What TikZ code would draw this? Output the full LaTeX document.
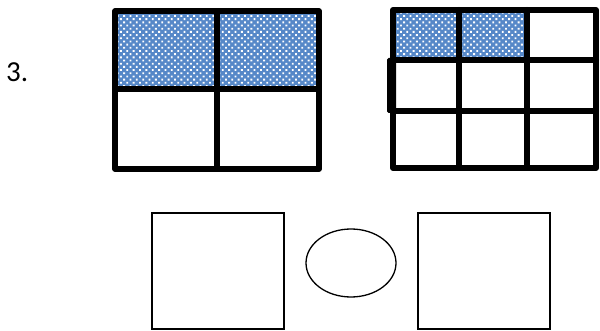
\documentclass[tikz,border=0pt]{standalone}
\usepackage{fontspec}
\setmainfont{Carlito}
\usetikzlibrary{patterns.meta,shapes.geometric}
\definecolor{cellblue}{RGB}{86,136,200}
\tikzset{
  thickgrid/.style={line width=5.5pt, line join=round, line cap=round},
  thickgridb/.style={line width=6pt, line join=round, line cap=round},
  bluecell/.style={fill=cellblue, postaction={pattern={Dots[distance=4.5pt, radius=1.3pt, angle=45]}, pattern color=white}},
  thinshape/.style={draw, line width=1.3pt, minimum width=132pt, minimum height=116pt, inner sep=0pt},
  oval/.style={draw, ellipse, line width=1.3pt, minimum width=90pt, minimum height=68pt, inner sep=0pt}
}
\begin{document}
\begin{tikzpicture}[x=1pt,y=-1pt]
\useasboundingbox (0,0) rectangle (600,331);
% label
\node[anchor=base west, inner sep=0pt, font=\fontsize{29}{34}\selectfont] (lbl) at (6,82) {3.};
% left grid
\path[bluecell] (115,11) rectangle (319,89);
\draw[thickgrid] (115,11) rectangle (319,169);
\draw[thickgrid] (217,11) -- (217,169);
\draw[thickgrid] (115,89) -- (319,89);
% right grid
\path[bluecell] (393,10) rectangle (527,60);
\draw[thickgridb] (393,10) rectangle (596,168);
\draw[thickgridb] (459,10) -- (459,168);
\draw[thickgridb] (527,10) -- (527,168);
\draw[thickgridb] (393,60) -- (596,60);
\draw[thickgridb] (393,111) -- (596,111);
\fill[rounded corners=1.5pt] (387,58) rectangle (396,113);
% bottom shapes
\node[thinshape] (lsq) at (218,271) {};
\node[oval] (ov) at (351,263) {};
\node[thinshape] (rsq) at (484,271) {};
\end{tikzpicture}
\end{document}
